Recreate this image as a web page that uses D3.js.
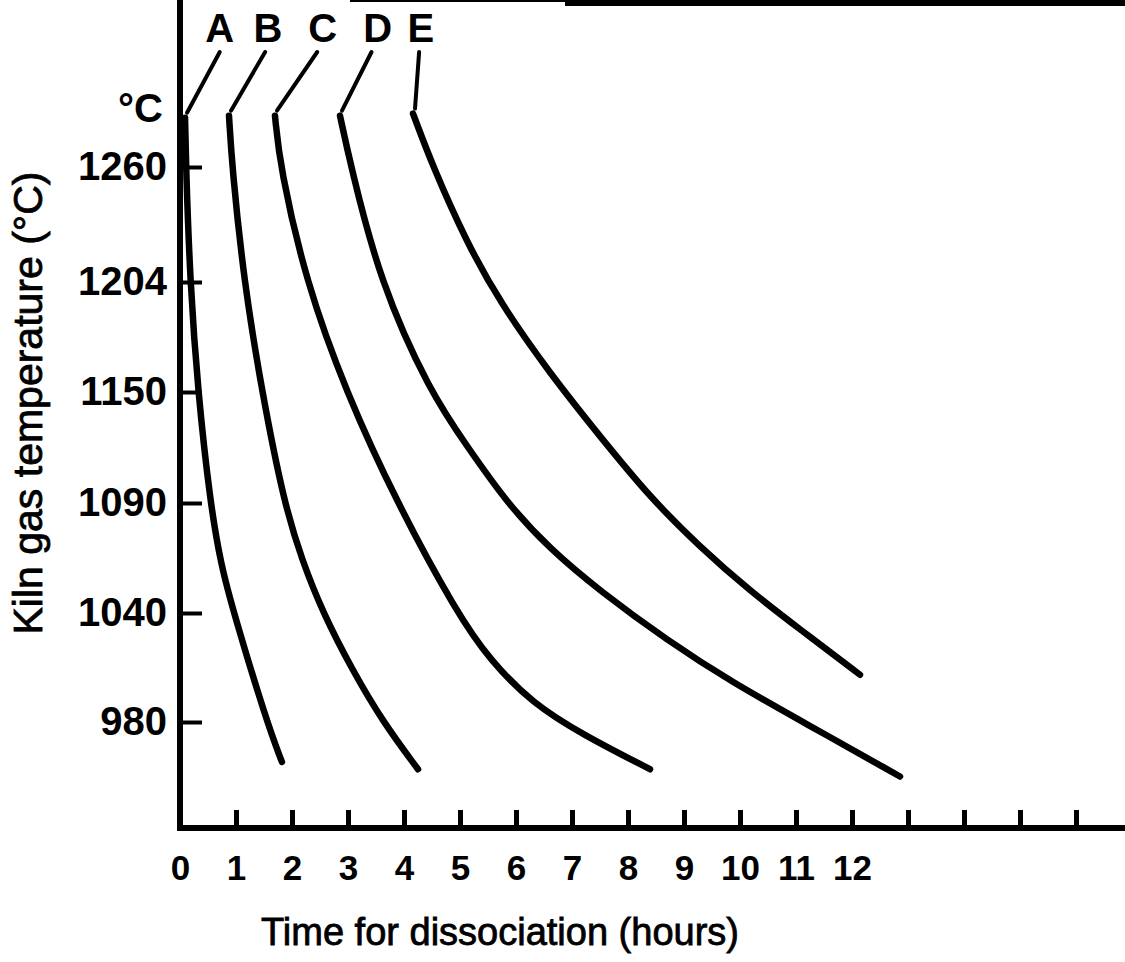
<!DOCTYPE html>
<html><head><meta charset="utf-8">
<script src="https://cdn.jsdelivr.net/npm/d3@7"></script>
<style>
body{margin:0;background:#fff}
svg{display:block}
text{font-family:"Liberation Sans",Arial,Helvetica,sans-serif;fill:#000}
</style>
</head><body>
<svg id="c" width="1125" height="962"></svg>
<script>
// ---- data: [hours, kiln gas temperature °C] ----
const seriesNames = ["A","B","C","D","E"];
const curveA = [[0.09,1284],[0.107,1260],[0.18,1204],[0.32,1150],[0.54,1090],[0.73,1062],[0.96,1040],[1.55,980],[1.82,958]];
const curveB = [[0.875,1285],[0.93,1260],[1.143,1204],[1.464,1150],[1.857,1090],[2.179,1064],[2.554,1040],[3.071,1009],[3.625,980],[4.25,954]];
const curveC = [[1.696,1285],[1.786,1260],[2.25,1204],[2.964,1150],[3.875,1090],[4.946,1040],[5.536,1014],[6.304,990],[7.196,973],[8.393,954]];
const curveD = [[2.857,1285],[3.054,1260],[3.571,1204],[4.464,1150],[5.143,1120],[5.839,1090],[6.607,1069],[7.5,1050],[8.696,1025],[9.875,1001.5],[11.125,980],[12.857,950]];
const curveE = [[4.161,1286],[4.518,1260],[5.125,1223],[5.714,1194],[6.607,1159],[7.5,1126],[8.393,1093],[9.286,1070],[10.179,1050],[11.071,1031],[12.143,1006]];
const curves = [curveA, curveB, curveC, curveD, curveE];

const xTickValues = d3.range(0, 17);
const xTickLabels = ["0","1","2","3","4","5","6","7","8","9","10","11","12"];
const yTickValues = [980, 1040, 1090, 1150, 1204, 1260];
const yTickLabels = ["980","1040","1090","1150","1204","1260"];
const labelHours = [0.71, 1.57, 2.55, 3.53, 4.3];
const leaderTopHours = [0.71, 1.52, 2.45, 3.42, 4.27];
const labelTemp = 1321, leaderTopTemp = 1316;
const xTitle = "Time for dissociation (hours)";
const yTitle = "Kiln gas temperature (°C)";
const yUnit = "°C";

// ---- scales ----
const svg = d3.select("#c");
const x = d3.scaleLinear().domain([0, 17]).range([180, 180 + 17 * 56]);
// axis is non-uniform in °C (equal steps in °F): piecewise-linear scale
const y = d3.scaleLinear().domain(yTickValues).range([722, 613, 503, 392, 282, 167]);

// top frame fragment
svg.append("line").attr("x1", 350).attr("x2", 565).attr("y1", 1).attr("y2", 1)
  .attr("stroke", "#000").attr("stroke-width", 2);
svg.append("line").attr("x1", 565).attr("x2", 1125).attr("y1", 3).attr("y2", 3)
  .attr("stroke", "#000").attr("stroke-width", 6);

// ---- axes ----
const yAxis = d3.axisLeft(y).tickValues(yTickValues)
  .tickFormat((d, i) => yTickLabels[i]).tickSizeInner(-22).tickSizeOuter(0).tickPadding(13);
const gy = svg.append("g").attr("transform", `translate(${x(0)},0)`).call(yAxis);
gy.select(".domain").remove();
gy.selectAll(".tick line").attr("stroke", "#000").attr("stroke-width", 4);
gy.selectAll(".tick text").attr("font-size", 40).attr("font-family", null).attr("font-weight", "bold");

const xAxis = d3.axisBottom(x).tickValues(xTickValues)
  .tickFormat(d => d < xTickLabels.length ? xTickLabels[d] : "")
  .tickSizeInner(-18).tickSizeOuter(0).tickPadding(27);
const gx = svg.append("g").attr("transform", "translate(0,828)").call(xAxis);
gx.select(".domain").remove();
gx.selectAll(".tick line").attr("stroke", "#000").attr("stroke-width", 5);
gx.selectAll(".tick text").attr("font-size", 35).attr("font-family", null).attr("font-weight", "bold");

// axis lines
svg.append("line").attr("x1", x(0)).attr("x2", x(0)).attr("y1", 0).attr("y2", 831)
  .attr("stroke", "#000").attr("stroke-width", 6);
svg.append("line").attr("x1", x(0) - 3).attr("x2", 1125).attr("y1", 828).attr("y2", 828)
  .attr("stroke", "#000").attr("stroke-width", 6);

// ---- curves ----
const line = d3.line().x(d => x(d[0])).y(d => y(d[1])).curve(d3.curveBasis);
svg.append("g").selectAll("path").data(curves).join("path")
  .attr("d", line).attr("fill", "none").attr("stroke", "#000")
  .attr("stroke-width", 6.5).attr("stroke-linecap", "round").attr("stroke-linejoin", "round");

// ---- curve labels and leaders ----
svg.append("g").selectAll("line").data(curves).join("line")
  .attr("x1", (d, i) => x(leaderTopHours[i])).attr("y1", y(leaderTopTemp))
  .attr("x2", d => x(d[0][0]) + 2).attr("y2", d => y(d[0][1]) - 5)
  .attr("stroke", "#000").attr("stroke-width", 4).attr("stroke-linecap", "round");
svg.append("g").selectAll("text").data(seriesNames).join("text")
  .attr("x", (d, i) => x(labelHours[i])).attr("y", y(labelTemp))
  .attr("text-anchor", "middle").attr("font-size", 40).attr("font-weight", "bold").text(d => d);

// unit label
svg.append("text").attr("x", 163).attr("y", 122).attr("text-anchor", "end")
  .attr("font-size", 40).attr("font-weight", "bold").text(yUnit);

// axis titles
svg.append("text").attr("x", 500).attr("y", 945).attr("text-anchor", "middle")
  .attr("font-size", 38).attr("stroke", "#000").attr("stroke-width", 0.8).text(xTitle);
svg.append("text").attr("transform", "translate(42,403) rotate(-90)")
  .attr("text-anchor", "middle").attr("font-size", 41).attr("stroke", "#000").attr("stroke-width", 0.8).text(yTitle);
</script>
</body></html>
